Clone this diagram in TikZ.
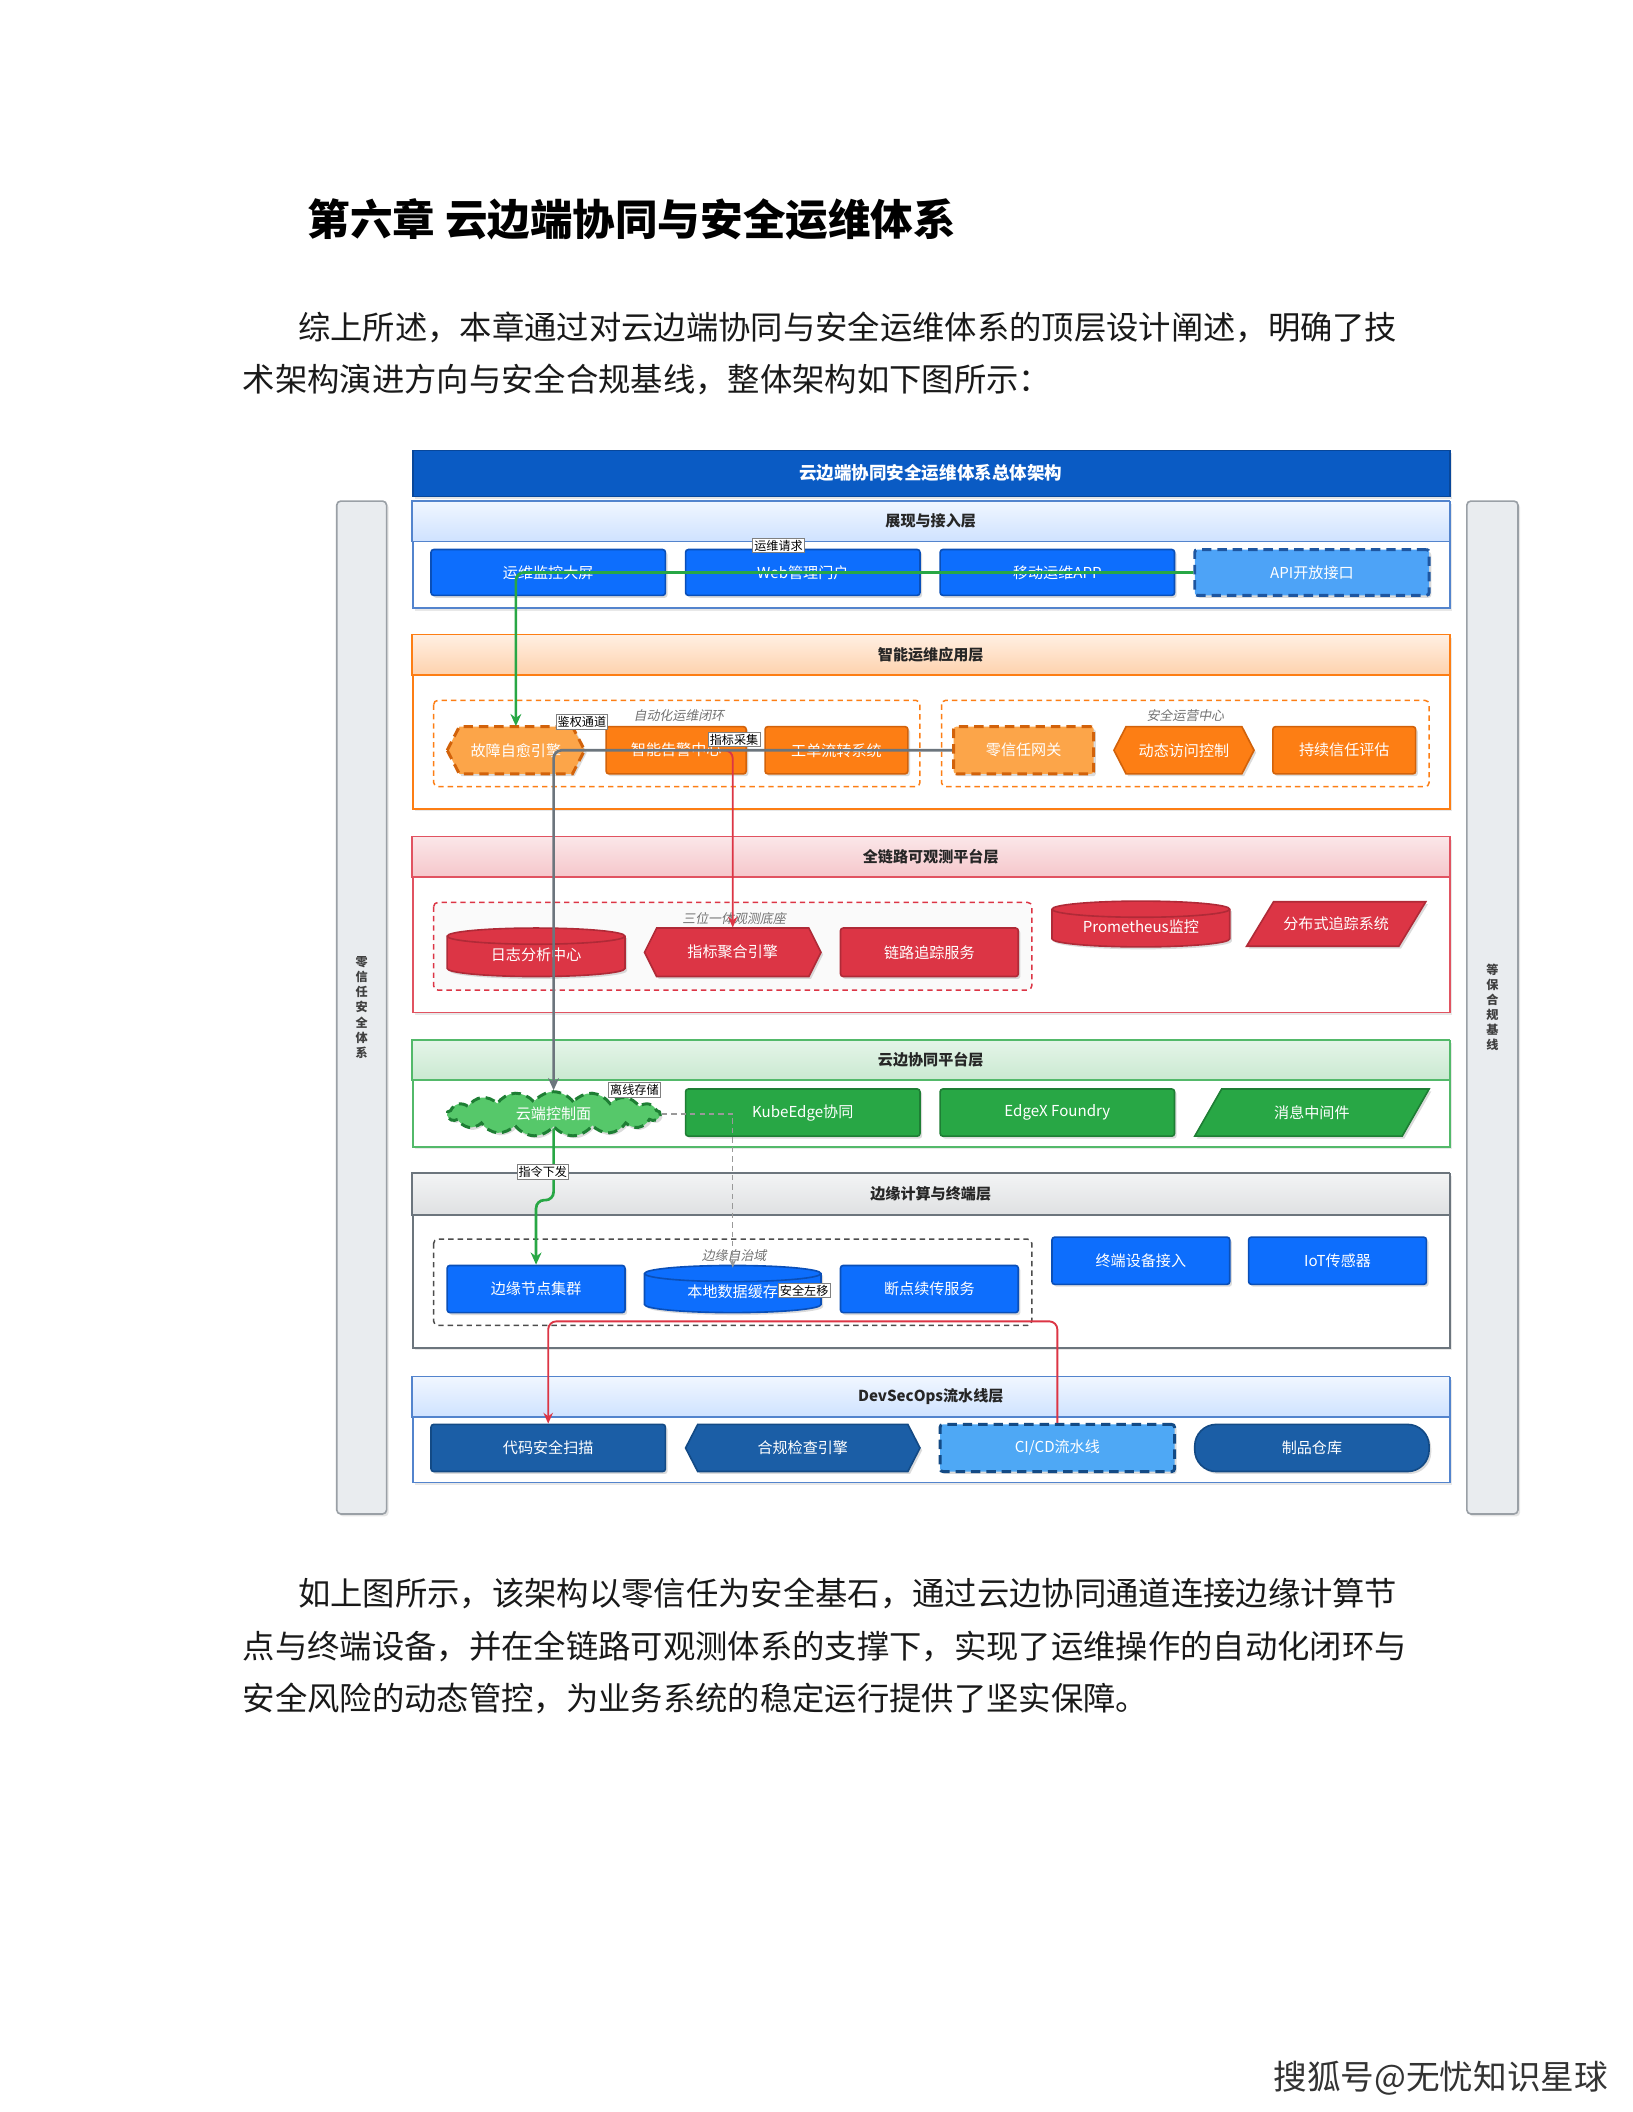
\documentclass[tikz,border=0pt]{standalone}
\usepackage{fontspec}
\setmainfont{Noto Sans CJK SC}
\newfontfamily\cjkit{Noto Sans CJK SC}[FakeSlant=0.2]
\usetikzlibrary{shapes.symbols,shadows,arrows.meta,calc}
\definecolor{cTitle}{HTML}{0A5BC4}\definecolor{cTitleD}{HTML}{08479A}
\definecolor{cBlue}{HTML}{0D6EFD}\definecolor{cBlueD}{HTML}{0A4FB8}
\definecolor{cApi}{HTML}{4DA3F7}\definecolor{cApiD}{HTML}{1E56A0}
\definecolor{cOr}{HTML}{FD7E14}\definecolor{cOrD}{HTML}{D2620A}\definecolor{cOrL}{HTML}{FCA549}
\definecolor{cRed}{HTML}{DC3545}\definecolor{cRedD}{HTML}{B02A37}
\definecolor{cGrn}{HTML}{28A745}\definecolor{cGrnD}{HTML}{1E7E34}\definecolor{cCloud}{HTML}{56C86A}
\definecolor{cDk}{HTML}{1B5EA6}\definecolor{cDkD}{HTML}{134A85}\definecolor{cCicd}{HTML}{4EA8F5}
\definecolor{cSide}{HTML}{E9ECEF}\definecolor{cSideD}{HTML}{9AA0A6}
\definecolor{cGray}{HTML}{6C757D}
\tikzset{
 wh/.style 2 args={minimum width={#1*0.5pt}, minimum height={#2*0.5pt}},
 txt/.style={font=\fontsize{5.6}{6.5}\selectfont, text=white, inner sep=0pt, align=center},
 shp/.style={line width=0.6pt, drop shadow={opacity=0.28, shadow xshift=0.8pt, shadow yshift=-0.9pt}},
 rbox/.style={txt, shp, rectangle, rounded corners=1pt},
 dsh/.style={line width=1.1pt, dash pattern=on 3.5pt off 2.2pt},
 grp/.style={line width=0.55pt, dash pattern=on 2pt off 1.5pt, rounded corners=1.5pt},
 glab/.style={font=\cjkit\fontsize{4.8}{5.5}\selectfont, text=black!55},
 hdr/.style={font=\bfseries\fontsize{5.6}{6.5}\selectfont, text=black!85},
 elabel/.style={fill=white, draw=black!50, line width=0.3pt, font=\fontsize{4.5}{5}\selectfont, text=black, inner sep=0.6pt},
 greenedge/.style={draw=cGrn, line width=1pt, rounded corners=3pt, -{Stealth[length=4.5pt,width=4pt]}},
 greyedge/.style={draw=cGray, line width=1pt, rounded corners=3pt, -{Stealth[length=4.5pt,width=4pt]}},
 redline/.style={draw=cRed, line width=0.7pt, rounded corners=3pt, -{Stealth[length=4pt,width=3.5pt]}},
 dashedge/.style={draw=black!40, line width=0.5pt, dash pattern=on 2pt off 1.5pt, -{Stealth[length=3pt,width=2.5pt]}},
 sidebar/.style={fill=cSide, draw=cSideD, line width=0.6pt, rounded corners=1.5pt, drop shadow={opacity=0.2, shadow xshift=0.8pt, shadow yshift=-0.9pt}, font=\bfseries\fontsize{4.5}{5.6}\selectfont, text=black!75, align=center, inner sep=0pt},
 para/.style={anchor=west, font=\fontsize{12}{14}\selectfont, text=black!90, inner sep=0pt}
}
\newcommand\mylayer[8]{%
 \node[draw=#5, line width=0.6pt, fill=white, minimum width=385pt, minimum height={(#4-#2)*0.5pt}, anchor=north west, inner sep=0pt, drop shadow={opacity=0.18, shadow xshift=0.8pt, shadow yshift=-0.9pt}] (#1) at (306,#2) {};
 \path[top color=#6, bottom color=#7, draw=#5, line width=0.6pt] (306,#2) rectangle (1076,#3);
 \node[hdr] (#1h) at (691,{(#2+#3)/2}) {#8};}
\newcommand\hexnode[7]{%
 \pgfmathsetmacro\myhw{#4/2}\pgfmathsetmacro\myhh{#5/2}%
 \path[shp,#6] ({#2-\myhw},{#3}) -- ({#2-\myhw+9},{#3-\myhh}) -- ({#2+\myhw-9},{#3-\myhh}) -- ({#2+\myhw},{#3}) -- ({#2+\myhw-9},{#3+\myhh}) -- ({#2-\myhw+9},{#3+\myhh}) -- cycle;
 \node[txt, wh={#4}{#5}] (#1) at (#2,#3) {#7};}
\newcommand\paranode[7]{%
 \pgfmathsetmacro\myhw{#4/2}\pgfmathsetmacro\myhh{#5/2}%
 \path[shp,#6] ({#2-\myhw},{#3+\myhh}) -- ({#2-\myhw+20},{#3-\myhh}) -- ({#2+\myhw},{#3-\myhh}) -- ({#2+\myhw-20},{#3+\myhh}) -- cycle;
 \node[txt, wh={#4}{#5}] (#1) at (#2,#3) {#7};}
\newcommand\cylnode[7]{%
 \pgfmathsetmacro\myhw{#4/2}\pgfmathsetmacro\myhh{#5/2}\pgfmathsetmacro\myrx{#4/4}%
 \path[shp,#6] ({#2-\myhw},{#3-\myhh+6}) -- ({#2-\myhw},{#3+\myhh-6}) arc[start angle=180,end angle=360,x radius=\myrx pt,y radius=3pt] -- ({#2+\myhw},{#3-\myhh+6}) arc[start angle=0,end angle=180,x radius=\myrx pt,y radius=3pt] -- cycle;
 \path[#6, fill=none, line width=0.6pt] ({#2+\myhw},{#3-\myhh+6}) arc[start angle=0,end angle=-180,x radius=\myrx pt,y radius=3pt];
 \node[txt, wh={#4}{#5}] (#1) at (#2,{#3+2}) {#7};}
\begin{document}
\begin{tikzpicture}[x=0.5pt,y=-0.5pt]
\fill[white] (0,0) rectangle (1212,1568);
\useasboundingbox (0,0) rectangle (1212,1568);

% page text
\node[anchor=west, font=\bfseries\fontsize{15.8}{18}\selectfont, inner sep=0pt] (chap) at (228,163) {第六章 云边端协同与安全运维体系};
\node[para] (p1a) at (221,243) {综上所述，本章通过对云边端协同与安全运维体系的顶层设计阐述，明确了技};
\node[para] (p1b) at (180,282) {术架构演进方向与安全合规基线，整体架构如下图所示：};
\node[para] (p2a) at (221,1183) {如上图所示，该架构以零信任为安全基石，通过云边协同通道连接边缘计算节};
\node[para] (p2b) at (180,1222) {点与终端设备，并在全链路可观测体系的支撑下，实现了运维操作的自动化闭环与};
\node[para] (p2c) at (180,1261) {安全风险的动态管控，为业务系统的稳定运行提供了坚实保障。};
\node[anchor=west, font=\fontsize{12.5}{14}\selectfont, text=black!80, inner sep=0pt] (foot) at (945,1543) {搜狐号@无忧知识星球};

% side bars
\node[sidebar, wh={37}{752}] (ztrust) at (268.5,748) {零\\信\\任\\安\\全\\体\\系};
\node[sidebar, wh={38}{752}] (dbhg) at (1108,748) {等\\保\\合\\规\\基\\线};

% title bar
\node[fill=cTitle, draw=cTitleD, line width=0.6pt, anchor=north west, wh={770}{34}, inner sep=0pt, drop shadow={opacity=0.2, shadow xshift=0.8pt, shadow yshift=-0.9pt}] (ttl) at (306,334) {};
\node[font=\bfseries\fontsize{6.5}{7.5}\selectfont, text=white] (ttlt) at (691,351) {云边端协同安全运维体系总体架构};

% layers
\mylayer{L1}{372}{402}{451}{cBlueD!70}{cBlue!6}{cBlue!20}{展现与接入层}
\mylayer{L2}{471}{501}{600}{cOr}{cOr!12}{cOr!35}{智能运维应用层}
\mylayer{L3}{621}{651}{751}{cRed!85}{cRed!12}{cRed!28}{全链路可观测平台层}
\mylayer{L4}{772}{802}{851}{cGrn!80}{cGrn!12}{cGrn!25}{云边协同平台层}
\mylayer{L5}{871}{902}{1000}{cGray}{cGray!8}{cGray!22}{边缘计算与终端层}
\mylayer{L6}{1022}{1052}{1100}{cBlueD!70}{cBlue!6}{cBlue!20}{DevSecOps流水线层}

% groups
\draw[grp, draw=cOr] (322,520) rectangle (683,584);
\draw[grp, draw=cOr] (699,520) rectangle (1061,584);
\draw[grp, draw=cRed, fill=black!2] (322,670) rectangle (766,735);
\draw[grp, draw=black!70] (322,920) rectangle (766,984);
\node[glab] (g1) at (504,531) {自动化运维闭环};
\node[glab] (g2) at (880,531) {安全运营中心};
\node[glab] (g3) at (545,682) {三位一体观测底座};
\node[glab] (g4) at (545,932) {边缘自治域};

% layer 1
\node[rbox, fill=cBlue, draw=cBlueD, wh={174}{34}] (jkdp) at (407,425) {运维监控大屏};
\node[rbox, fill=cBlue, draw=cBlueD, wh={174}{34}] (webmh) at (596,425) {Web管理门户};
\node[rbox, fill=cBlue, draw=cBlueD, wh={174}{34}] (ydyw) at (785,425) {移动运维APP};
\node[rbox, fill=cApi, draw=cApiD, dsh, wh={174}{34}] (api) at (974,425) {API开放接口};

% layer 2
\hexnode{gzzy}{383}{557}{102}{35}{fill=cOrL, draw=cOrD, dsh}{故障自愈引擎}
\node[rbox, fill=cOr, draw=cOrD, wh={104}{35}] (znjg) at (502,557) {智能告警中心};
\node[rbox, fill=cOr, draw=cOrD, wh={106}{35}] (gdlz) at (621,557) {工单流转系统};
\node[rbox, fill=cOrL, draw=cOrD, dsh, wh={104}{35}] (zxrwg) at (760,557) {零信任网关};
\hexnode{dtfw}{879}{557}{104}{35}{fill=cOr, draw=cOrD}{动态访问控制}
\node[rbox, fill=cOr, draw=cOrD, wh={106}{35}] (cxxr) at (998,557) {持续信任评估};

% layer 3
\cylnode{rzfx}{398}{707}{132}{36}{fill=cRed, draw=cRedD}{日志分析中心}
\hexnode{zbjh}{544}{707}{131}{36}{fill=cRed, draw=cRedD}{指标聚合引擎}
\node[rbox, fill=cRed, draw=cRedD, wh={132}{36}] (lldz) at (690,707) {链路追踪服务};
\cylnode{prom}{847}{686}{132}{34}{fill=cRed, draw=cRedD}{Prometheus监控}
\paranode{fbsz}{992}{686}{133}{33}{fill=cRed, draw=cRedD}{分布式追踪系统}

% layer 4
\node[cloud, cloud puffs=17, cloud puff arc=110, aspect=4.8, fill=cCloud, draw=cGrnD, dsh, txt, wh={158}{33}, drop shadow={opacity=0.28, shadow xshift=0.8pt, shadow yshift=-0.9pt}] (ydkzm) at (411,827) {云端控制面};
\node[rbox, fill=cGrn, draw=cGrnD, wh={174}{35}] (kube) at (596,826) {KubeEdge协同};
\node[rbox, fill=cGrn, draw=cGrnD, wh={174}{35}] (edgex) at (785,826) {EdgeX Foundry};
\paranode{xxzj}{974}{826}{174}{35}{fill=cGrn, draw=cGrnD}{消息中间件}

% layer 5
\node[rbox, fill=cBlue, draw=cBlueD, wh={132}{35}] (byjd) at (398,957) {边缘节点集群};
\cylnode{bdsj}{544}{957}{131}{35}{fill=cBlue, draw=cBlueD}{本地数据缓存}
\node[rbox, fill=cBlue, draw=cBlueD, wh={132}{35}] (ddxc) at (690,957) {断点续传服务};
\node[rbox, fill=cBlue, draw=cBlueD, wh={132}{35}] (zdsb) at (847,936) {终端设备接入};
\node[rbox, fill=cBlue, draw=cBlueD, wh={132}{35}] (iot) at (993,936) {IoT传感器};

% layer 6
\node[rbox, fill=cDk, draw=cDkD, wh={174}{35}] (dmaq) at (407,1075) {代码安全扫描};
\hexnode{hgjc}{596}{1075}{174}{35}{fill=cDk, draw=cDkD}{合规检查引擎}
\node[rbox, fill=cCicd, draw=cDkD, dsh, wh={174}{35}] (cicd) at (785,1075) {CI/CD流水线};
\node[rbox, fill=cDk, draw=cDkD, rounded corners=8pt, wh={174}{35}] (zpck) at (974,1075) {制品仓库};

% connectors
\coordinate (jogA) at (0,891);
\coordinate (redtop) at (0,981);
\draw[greenedge] (api.west) -| (gzzy.north);
\draw[redline] (znjg.center) -| (zbjh.north);
\draw[greyedge] (zxrwg.west) -| (ydkzm.north);
\draw[greenedge] (ydkzm.south) -- (ydkzm.south |- jogA) -- (byjd.north |- jogA) -- (byjd.north);
\draw[dashedge] (ydkzm.east) -| (bdsj.north);
\draw[redline] (cicd.north) -- (cicd.north |- redtop) -| (dmaq.north);

% connector labels
\node[elabel] (lb1) at (578,405) {运维请求};
\node[elabel] (lb2) at (432,536) {鉴权通道};
\node[elabel] (lb3) at (545,549) {指标采集};
\node[elabel] (lb4) at (471,809) {离线存储};
\node[elabel] (lb5) at (403,870) {指令下发};
\node[elabel] (lb6) at (597,958) {安全左移};
\end{tikzpicture}
\end{document}
